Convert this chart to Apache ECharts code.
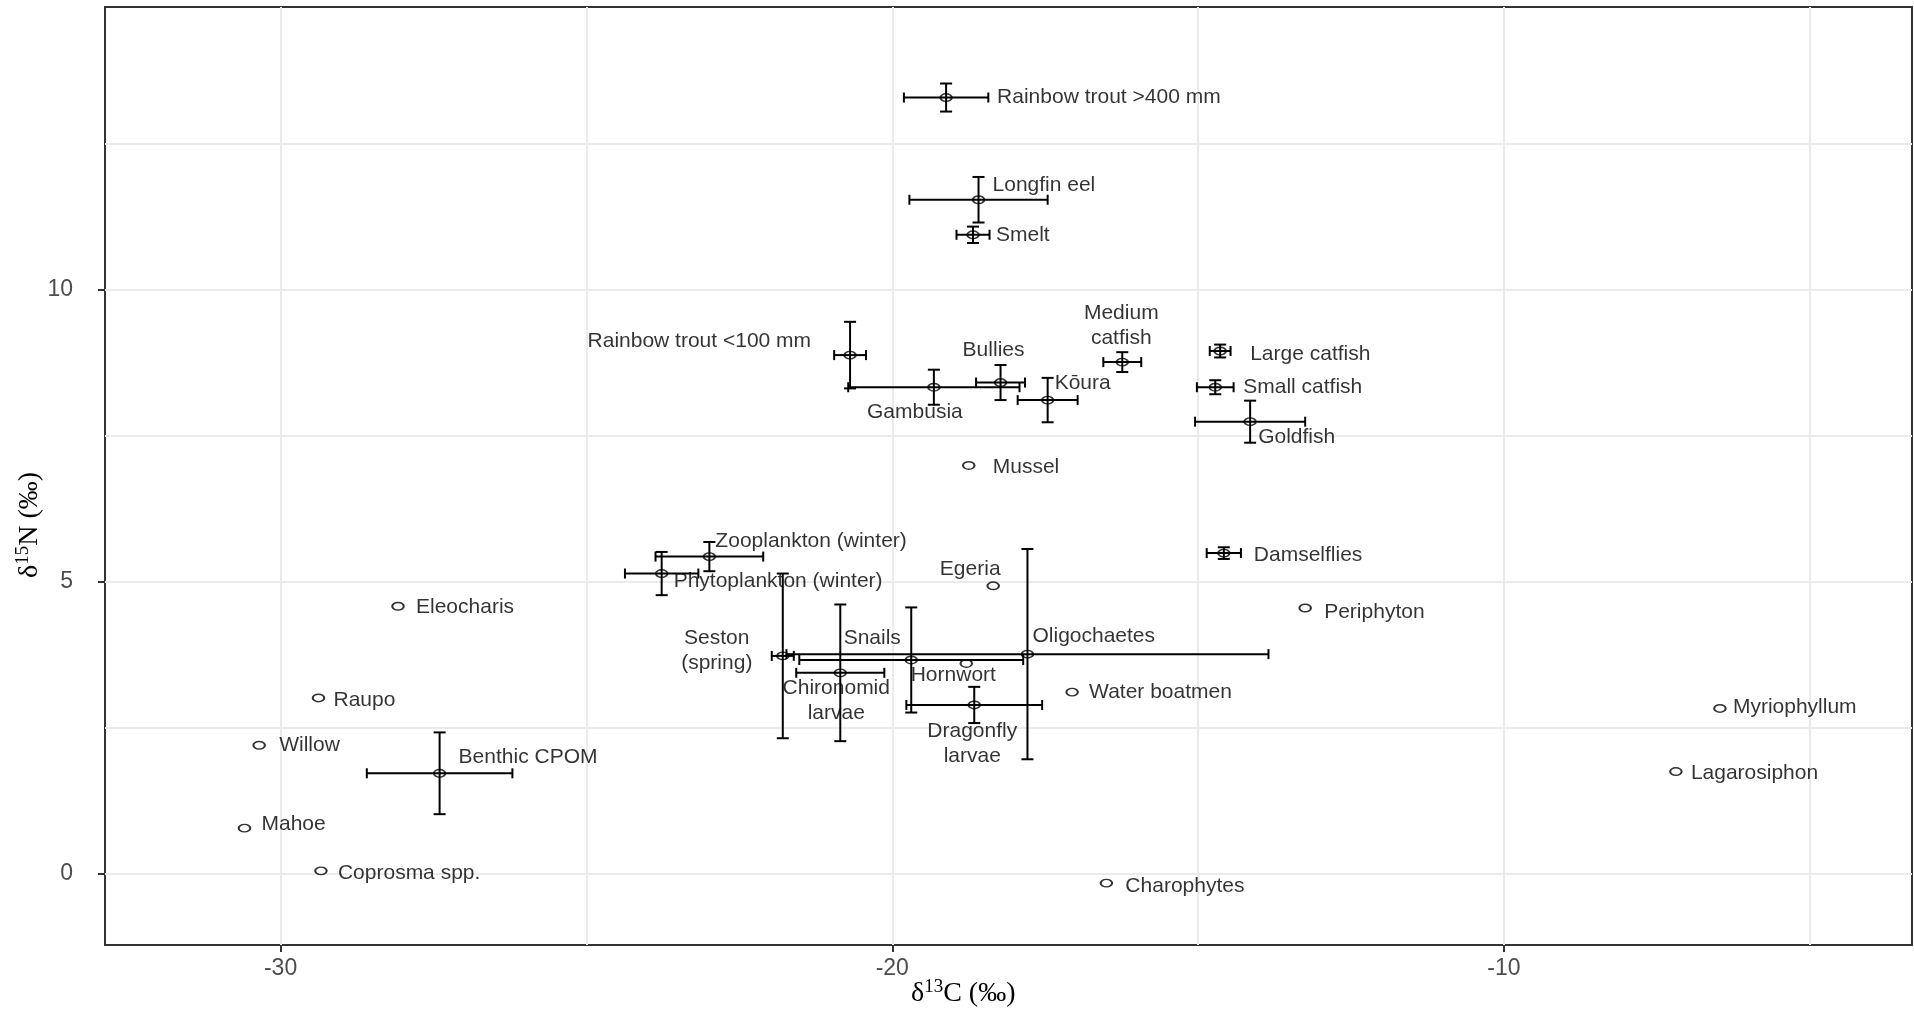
<!DOCTYPE html>
<html>
<head>
<meta charset="utf-8">
<title>Stable isotope biplot</title>
<script src="https://cdn.jsdelivr.net/npm/echarts@6/dist/echarts.min.js"></script>
<style>
  html, body { margin: 0; padding: 0; background: #fff; }
  #main { width: 1914px; height: 1013px; }
</style>
</head>
<body>
<div id="main"></div>
<script>
// taxa (line breaks as in the figure labels)
var taxa = [
  'Rainbow trout >400 mm', 'Longfin eel', 'Smelt', 'Rainbow trout <100 mm', 'Gambusia',
  'Bullies', 'Kōura', 'Medium\ncatfish', 'Large catfish', 'Small catfish',
  'Goldfish', 'Mussel', 'Zooplankton (winter)', 'Phytoplankton (winter)', 'Damselflies',
  'Egeria', 'Eleocharis', 'Periphyton', 'Seston\n(spring)', 'Oligochaetes',
  'Snails', 'Hornwort', 'Chironomid\nlarvae', 'Water boatmen', 'Raupo',
  'Dragonfly\nlarvae', 'Myriophyllum', 'Willow', 'Benthic CPOM', 'Lagarosiphon',
  'Mahoe', 'Coprosma spp.', 'Charophytes'
];
var d13C = [
  -19.12, -18.59, -18.68, -20.69, -19.32,
  -18.23, -17.46, -16.24, -14.64, -14.72,
  -14.15, -18.75, -22.99, -23.77, -14.58,
  -18.35, -28.08, -13.25, -21.79, -17.79,
  -19.69, -18.79, -20.85, -17.06, -29.38,
  -18.66, -6.47, -30.35, -27.40, -7.19,
  -30.59, -29.34, -16.50
];
var d15N = [
  13.29, 11.54, 10.94, 8.88, 8.33,
  8.41, 8.11, 8.76, 8.95, 8.33,
  7.74, 6.99, 5.43, 5.14, 5.49,
  4.93, 4.58, 4.55, 3.73, 3.76,
  3.66, 3.60, 3.44, 3.11, 3.01,
  2.89, 2.83, 2.20, 1.72, 1.75,
  0.78, 0.05, -0.16
];
// error (±) for each axis, null = single value
var sdC = [
  0.69, 1.13, 0.27, 0.26, 1.40,
  0.40, 0.49, 0.31, 0.17, 0.30,
  0.90, null, 0.88, 0.60, 0.28,
  null, null, null, 0.18, 3.94,
  1.83, null, 0.72, null, null,
  1.11, null, null, 1.19, null,
  null, null, null
];
var sdN = [
  0.24, 0.39, 0.14, 0.57, 0.30,
  0.30, 0.38, 0.17, 0.11, 0.12,
  0.36, null, 0.25, 0.37, 0.10,
  null, null, null, 1.41, 1.80,
  0.90, null, 1.17, null, null,
  0.31, null, null, 0.70, null,
  null, null, null
];
var xLabels = [-30, -20, -10];
var yLabels = [0, 5, 10];
var xGrid = [-30, -25, -20, -15, -10, -5];
var yGrid = [0, 2.5, 5, 7.5, 10, 12.5];

// where each text label sits relative to its point: [align, dx, dy] in px
var labelPos = {
  'Rainbow trout >400 mm': ['left', 51, 0],
  'Longfin eel': ['left', 14, -15],
  'Smelt': ['left', 23, 0],
  'Rainbow trout <100 mm': ['right', -39, -14],
  'Gambusia': ['center', -19, 25],
  'Bullies': ['center', -7, -32],
  'Kōura': ['left', 7, -17],
  'Medium\ncatfish': ['center', -1, -36],
  'Large catfish': ['left', 30, 3],
  'Small catfish': ['left', 28, 0],
  'Goldfish': ['left', 8, 16],
  'Mussel': ['left', 24, 2],
  'Zooplankton (winter)': ['left', 6, -15],
  'Phytoplankton (winter)': ['left', 12, 8],
  'Damselflies': ['left', 30, 2],
  'Egeria': ['center', -23, -17],
  'Eleocharis': ['left', 18, 1],
  'Periphyton': ['left', 19, 4],
  'Seston\n(spring)': ['center', -66, -5],
  'Oligochaetes': ['left', 5, -18],
  'Snails': ['center', -39, -22],
  'Hornwort': ['center', -13, 12],
  'Chironomid\nlarvae': ['center', -4, 28],
  'Water boatmen': ['left', 17, 0],
  'Raupo': ['left', 15, 2],
  'Dragonfly\nlarvae': ['center', -2, 39],
  'Myriophyllum': ['left', 13, -1],
  'Willow': ['left', 20, 0],
  'Benthic CPOM': ['left', 19, -16],
  'Lagarosiphon': ['left', 15, 2],
  'Mahoe': ['left', 17, -4],
  'Coprosma spp.': ['left', 17, 2],
  'Charophytes': ['left', 19, 3]
};

var X_MIN = -32.87, X_MAX = -3.33;
var Y_MIN = -1.22, Y_MAX = 14.84;

var pointData = [];
var barData = [];
for (var i = 0; i < taxa.length; i++) {
  var lp = labelPos[taxa[i]] || ['left', 15, 0];
  pointData.push({
    name: taxa[i],
    value: [d13C[i], d15N[i]],
    label: { align: lp[0], offset: [lp[1], lp[2]] }
  });
  if (sdC[i] != null || sdN[i] != null) {
    barData.push([d13C[i], d15N[i], sdC[i] || 0, sdN[i] || 0]);
  }
}

var myChart = echarts.init(document.getElementById('main'));

var option = {
  animation: false,
  backgroundColor: '#fff',
  grid: {
    left: 105, top: 7, right: 2, bottom: 68,
    show: true, borderColor: '#333', borderWidth: 2, backgroundColor: '#fff'
  },
  xAxis: [{
    type: 'value', min: X_MIN, max: X_MAX,
    axisLine: { show: false, onZero: false },
    axisTick: { show: false, customValues: xGrid },
    splitLine: { show: true, lineStyle: { color: '#EBEBEB', width: 2 } },
    axisLabel: { customValues: xLabels, fontSize: 23, color: '#4D4D4D', fontFamily: 'Liberation Sans', margin: 12 }
  }, {
    type: 'value', min: X_MIN, max: X_MAX, position: 'bottom',
    axisLine: { show: false, onZero: false },
    axisTick: { show: true, customValues: xLabels, length: 7, lineStyle: { color: '#333', width: 2 } },
    splitLine: { show: false },
    axisLabel: { show: false }
  }],
  yAxis: [{
    type: 'value', min: Y_MIN, max: Y_MAX,
    axisLine: { show: false, onZero: false },
    axisTick: { show: false, customValues: yGrid },
    splitLine: { show: true, lineStyle: { color: '#EBEBEB', width: 2 } },
    axisLabel: { customValues: yLabels, fontSize: 23, color: '#4D4D4D', fontFamily: 'Liberation Sans', margin: 32 }
  }, {
    type: 'value', min: Y_MIN, max: Y_MAX, position: 'left',
    axisLine: { show: false, onZero: false },
    axisTick: { show: true, customValues: yLabels, length: 7, lineStyle: { color: '#333', width: 2 } },
    splitLine: { show: false },
    axisLabel: { show: false }
  }],
  graphic: [{
    type: 'text', x: 911, y: 994, z: 10,
    style: {
      text: '{a|δ}{s|13}{a|C (‰)}',
      align: 'left', verticalAlign: 'middle',
      rich: {
        a: { fontFamily: 'Liberation Serif', fontSize: 28, fill: '#000', lineHeight: 32 },
        s: { fontFamily: 'Liberation Serif', fontSize: 19, fill: '#000', verticalAlign: 'top', lineHeight: 32 }
      }
    }
  }, {
    type: 'text', x: 30, y: 525, rotation: Math.PI / 2, z: 10,
    style: {
      text: '{a|δ}{s|15}{a|N (‰)}',
      align: 'center', verticalAlign: 'middle',
      rich: {
        a: { fontFamily: 'Liberation Serif', fontSize: 28, fill: '#000', lineHeight: 32 },
        s: { fontFamily: 'Liberation Serif', fontSize: 19, fill: '#000', verticalAlign: 'top', lineHeight: 32 }
      }
    }
  }],
  series: [{
    type: 'custom',
    xAxisIndex: 0, yAxisIndex: 0,
    z: 2,
    silent: true,
    data: barData,
    encode: { x: 0, y: 1 },
    renderItem: function (params, api) {
      var x = api.value(0), y = api.value(1), ex = api.value(2), ey = api.value(3);
      var c = api.coord([x, y]);
      var st = { stroke: '#000', lineWidth: 2 };
      var kids = [];
      if (ex > 0) {
        var l = api.coord([x - ex, y]), r = api.coord([x + ex, y]);
        kids.push({ type: 'line', shape: { x1: l[0], y1: c[1], x2: r[0], y2: c[1] }, style: st });
        kids.push({ type: 'line', shape: { x1: l[0], y1: c[1] - 5, x2: l[0], y2: c[1] + 5 }, style: st });
        kids.push({ type: 'line', shape: { x1: r[0], y1: c[1] - 5, x2: r[0], y2: c[1] + 5 }, style: st });
      }
      if (ey > 0) {
        var t = api.coord([x, y + ey]), b = api.coord([x, y - ey]);
        kids.push({ type: 'line', shape: { x1: c[0], y1: t[1], x2: c[0], y2: b[1] }, style: st });
        kids.push({ type: 'line', shape: { x1: c[0] - 6, y1: t[1], x2: c[0] + 6, y2: t[1] }, style: st });
        kids.push({ type: 'line', shape: { x1: c[0] - 6, y1: b[1], x2: c[0] + 6, y2: b[1] }, style: st });
      }
      return { type: 'group', children: kids };
    }
  }, {
    type: 'scatter',
    xAxisIndex: 0, yAxisIndex: 0,
    z: 3,
    silent: true,
    symbol: 'path://M0,50A50,50 0 1,0 100,50A50,50 0 1,0 0,50Z',
    symbolSize: [11.5, 7.5],
    itemStyle: { color: 'rgba(0,0,0,0)', borderColor: '#000', borderWidth: 1.7 },
    label: {
      show: true,
      position: ['50%', '50%'],
      verticalAlign: 'middle',
      formatter: '{b}',
      color: '#000',
      fontFamily: 'Liberation Sans',
      fontSize: 21,
      lineHeight: 25
    },
    emphasis: { disabled: true },
    data: pointData
  }]
};

myChart.setOption(option);
</script>
</body>
</html>
